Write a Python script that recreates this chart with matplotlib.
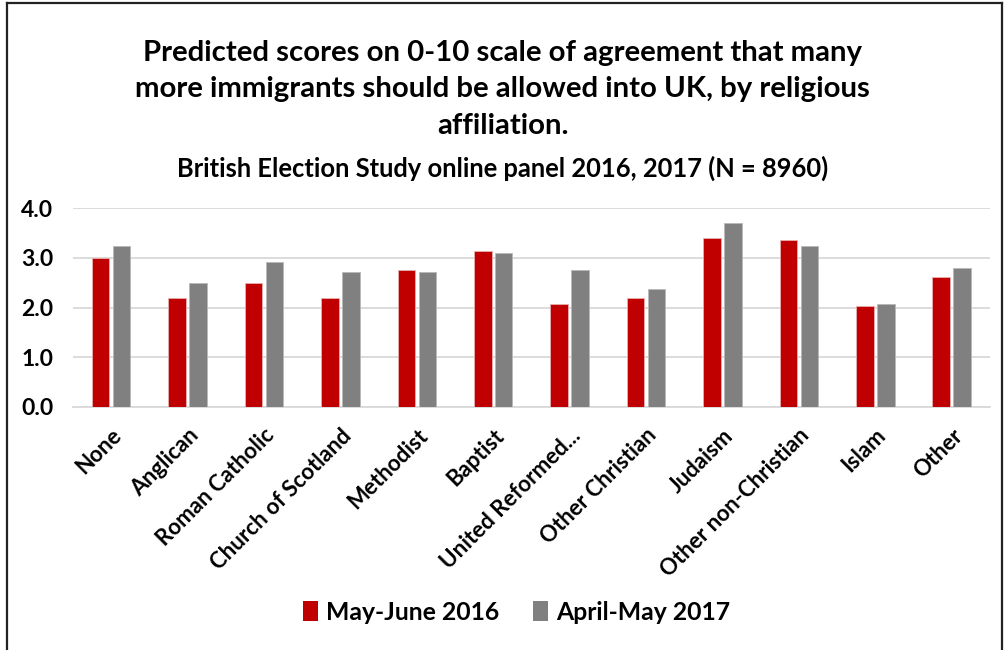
import matplotlib
matplotlib.use("Agg")
import matplotlib.pyplot as plt
import numpy as np
from matplotlib.lines import Line2D
from matplotlib.patches import Patch

# ----------------------------------------------------------------
# datos
# ----------------------------------------------------------------
categorias = ["None", "Anglican", "Roman Catholic", "Church of Scotland",
              "Methodist", "Baptist", "United Reformed...", "Other Christian",
              "Judaism", "Other non-Christian", "Islam", "Other"]

serie_2016 = [3.00, 2.19, 2.49, 2.19, 2.76, 3.14, 2.07, 2.19, 3.41, 3.37, 2.04, 2.61]
serie_2017 = [3.25, 2.49, 2.91, 2.72, 2.72, 3.10, 2.76, 2.37, 3.71, 3.25, 2.07, 2.80]

etiquetas = ["May-June 2016", "April-May 2017"]
yticks = [0.0, 1.0, 2.0, 3.0, 4.0]

ROJO = "#C00000"
GRIS = "#808080"

plt.rcParams["font.family"] = ["Lato", "DejaVu Sans"]
plt.rcParams["font.weight"] = "bold"

fig = plt.figure(figsize=(10.05, 6.5), dpi=100)
ax = fig.add_axes([0.0726, 0.3743, 0.9124, 0.3052])

x = np.arange(len(categorias))
ancho = 0.23
ax.bar(x - 0.137, serie_2016, width=ancho, color=ROJO, edgecolor="#e8b0b0", linewidth=0.6, zorder=3)
ax.bar(x + 0.137, serie_2017, width=ancho, color=GRIS, edgecolor="#b8b8b8", linewidth=0.6, zorder=3)

ax.set_xlim(-0.5, len(categorias) - 0.5)
ax.set_ylim(0, 4.0)
ax.set_yticks(yticks)
ax.set_yticklabels([f"{v:.1f}" for v in yticks], fontsize=16.5, fontweight="bold")
ax.yaxis.grid(True, color="#D9D9D9", linewidth=1.3, zorder=0)
ax.tick_params(axis="y", length=0, pad=14)
ax.tick_params(axis="x", length=0, pad=13)
ax.set_xticks(x)
ax.set_xticklabels(categorias, rotation=45, ha="right", rotation_mode="anchor",
                   fontsize=16, fontweight="bold")
for lado in ["top", "right", "left"]:
    ax.spines[lado].set_visible(False)
ax.spines["bottom"].set_color("#D9D9D9")
ax.spines["bottom"].set_linewidth(1.3)

# titulo y subtitulo
titulo = ("Predicted scores on 0-10 scale of agreement that many\n"
          "more immigrants should be allowed into UK, by religious\n"
          "affiliation.")
fig.text(0.5, 1 - 89 / 650, titulo, ha="center", va="center", fontsize=21.2,
         fontweight="bold", linespacing=1.5)
fig.text(0.5, 1 - 168 / 650, "British Election Study online panel 2016, 2017 (N = 8960)",
         ha="center", va="center", fontsize=18.4, fontweight="bold")

# leyenda
manijas = [Patch(facecolor=ROJO), Patch(facecolor=GRIS)]
fig.legend(manijas, etiquetas, loc="center", bbox_to_anchor=(0.514, 1 - 612 / 650),
           ncol=2, frameon=False, handlelength=0.6, handleheight=0.85,
           handletextpad=0.35, columnspacing=1.35,
           prop={"weight": "bold", "size": 17.8})

# marco
fig.add_artist(Line2D([7 / 1005, 7 / 1005], [0, 1 - 3 / 650], color="#222222", linewidth=1.6))
fig.add_artist(Line2D([7 / 1005, 1002 / 1005], [1 - 3 / 650, 1 - 3 / 650], color="#222222", linewidth=1.6))
fig.add_artist(Line2D([1002 / 1005, 1002 / 1005], [0, 1 - 3 / 650], color="#222222", linewidth=1.6))

fig.savefig("out.png", dpi=100)
